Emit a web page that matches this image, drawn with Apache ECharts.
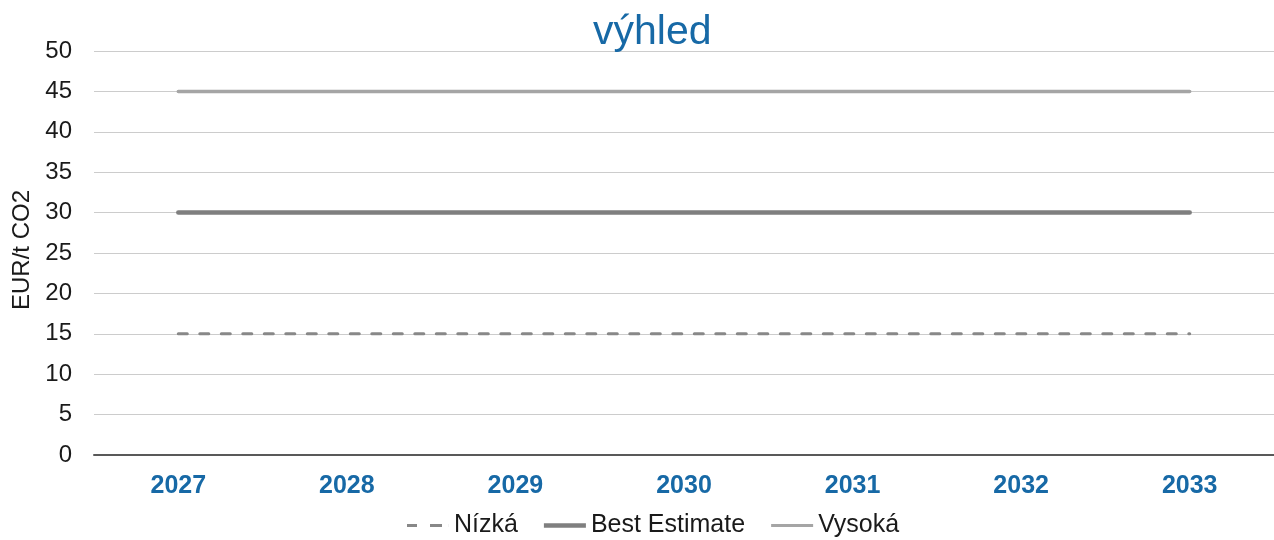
<!DOCTYPE html>
<html>
<head>
<meta charset="utf-8">
<script src="https://cdn.jsdelivr.net/npm/echarts@6/dist/echarts.min.js"></script>
<style>
html,body{margin:0;padding:0;background:#fff;overflow:hidden;}
#chart{width:1274px;height:540px;}
</style>
</head>
<body>
<div id="chart"></div>
<script>
// Carbon price outlook, EUR per tonne CO2
const years = ['2027', '2028', '2029', '2030', '2031', '2032', '2033'];
const nizka = [15, 15, 15, 15, 15, 15, 15];
const bestEstimate = [30, 30, 30, 30, 30, 30, 30];
const vysoka = [45, 45, 45, 45, 45, 45, 45];
const yTicks = [0, 5, 10, 15, 20, 25, 30, 35, 40, 45, 50];

const font = '"Liberation Sans", Arial, sans-serif';
const chart = echarts.init(document.getElementById('chart'), null, { renderer: 'canvas' });

// legend glyphs: short dashed stroke and solid strokes of differing weight
const dashIcon = 'path://M0,3.5H10V6.5H0Z M23,3.5H35V6.5H23Z M41.9,3.5H42V6.5H41.9Z';
const thickIcon = 'path://M0,2.8H42V7.2H0Z';
const thinIcon = 'path://M0,3.5H42V6.5H0Z';

chart.setOption({
  animation: false,
  title: {
    text: 'výhled',
    left: 588,
    top: 7,
    textStyle: { fontFamily: font, fontSize: 41, fontWeight: 'normal', color: '#1769a6' }
  },
  legend: {
    top: 508,
    left: 402,
    itemWidth: 42,
    itemHeight: 10,
    itemGap: 26,
    textStyle: { fontFamily: font, fontSize: 25, color: '#1a1a1a' },
    data: [
      { name: 'Nízká', icon: dashIcon },
      { name: 'Best Estimate', icon: thickIcon },
      { name: 'Vysoká', icon: thinIcon }
    ]
  },
  grid: { left: 94, width: 1192, top: 51, height: 404, containLabel: false },
  xAxis: {
    type: 'category',
    data: years,
    boundaryGap: true,
    axisLine: { lineStyle: { color: '#595959', width: 2 } },
    axisTick: { show: false },
    axisLabel: { fontFamily: font, fontSize: 25, fontWeight: 'bold', color: '#1769a6', margin: 19 }
  },
  yAxis: {
    type: 'value',
    min: yTicks[0],
    max: yTicks[yTicks.length - 1],
    interval: 5,
    name: 'EUR/t CO2',
    nameLocation: 'middle',
    nameGap: 54,
    nameTextStyle: { fontFamily: font, fontSize: 24, color: '#1a1a1a', padding: [0, 0, 0, 6] },
    axisLine: { show: false },
    axisTick: { show: false },
    axisLabel: { fontFamily: font, fontSize: 24, color: '#1a1a1a', margin: 22 },
    splitLine: { lineStyle: { color: '#cccccc', width: 1 } }
  },
  series: [
    {
      name: 'Nízká', type: 'line', data: nizka, symbol: 'none',
      itemStyle: { color: '#888888' },
      lineStyle: { color: '#888888', width: 3, type: [9, 12.5], cap: 'round' }
    },
    {
      name: 'Best Estimate', type: 'line', data: bestEstimate, symbol: 'none',
      itemStyle: { color: '#7f7f7f' },
      lineStyle: { color: '#7f7f7f', width: 4.5, cap: 'round' }
    },
    {
      name: 'Vysoká', type: 'line', data: vysoka, symbol: 'none',
      itemStyle: { color: '#a5a5a5' },
      lineStyle: { color: '#a5a5a5', width: 3.5, cap: 'round' }
    }
  ]
});
</script>
</body>
</html>
